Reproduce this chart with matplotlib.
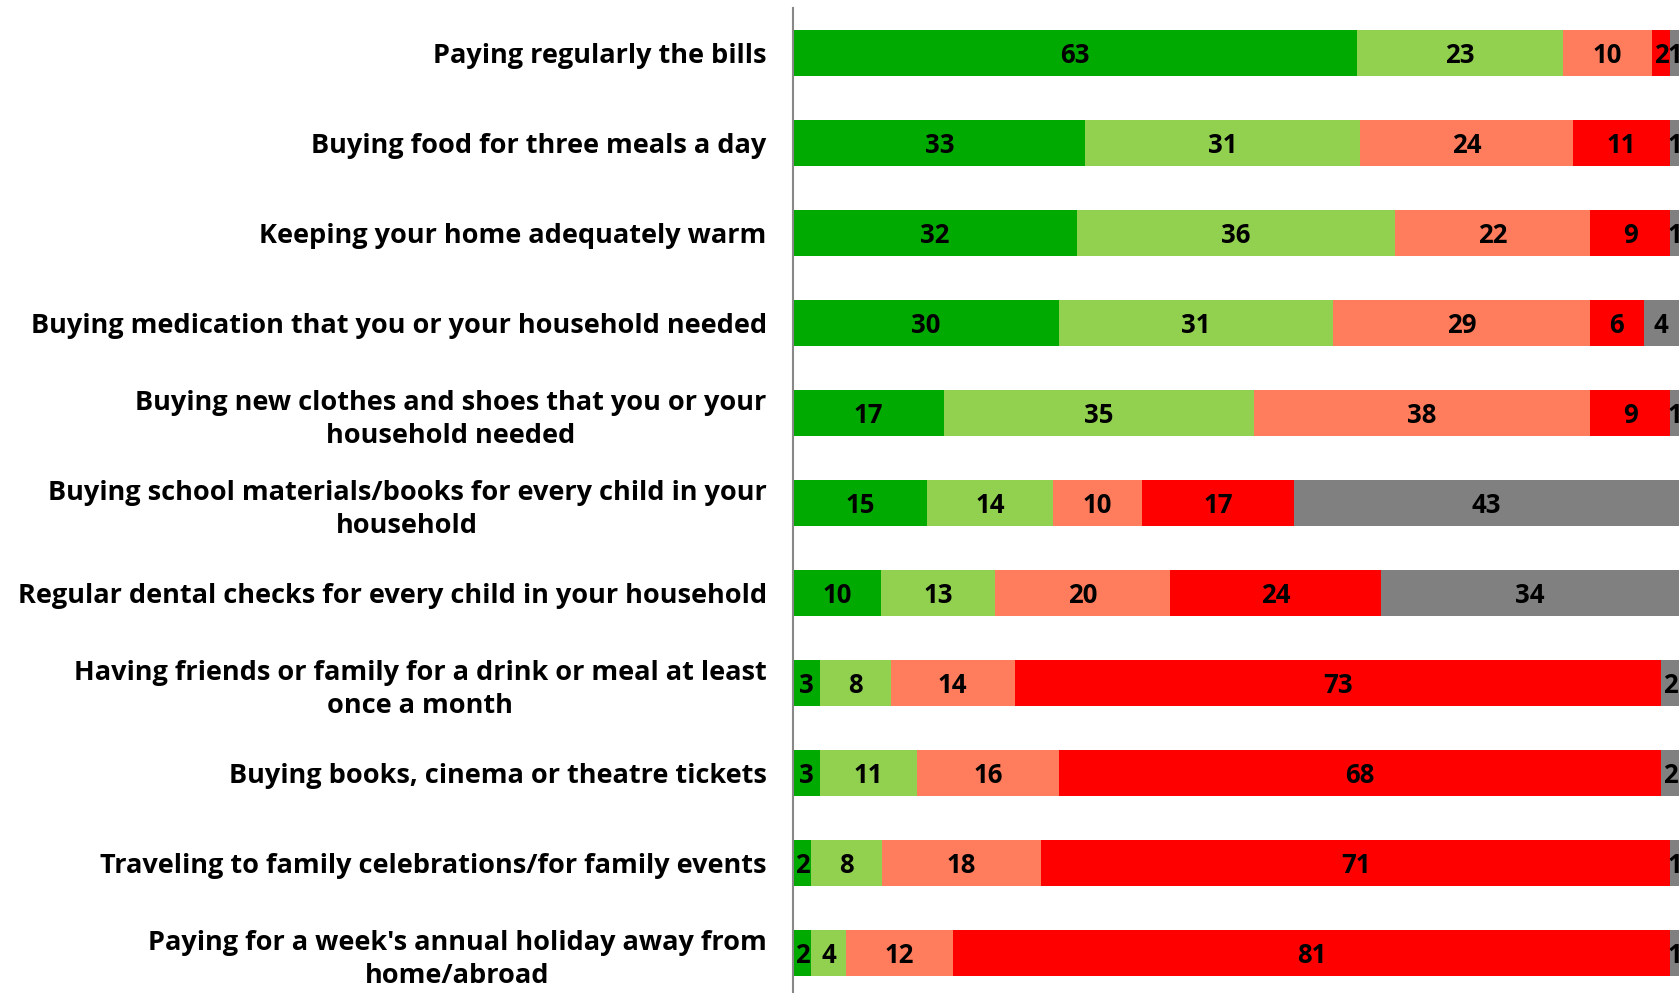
import numpy as np
import matplotlib.pyplot as plt

plt.rcParams['font.family'] = ['Open Sans', 'DejaVu Sans']

# Catégories (de haut en bas)
categories = [
    "Paying regularly the bills",
    "Buying food for three meals a day",
    "Keeping your home adequately warm",
    "Buying medication that you or your household needed",
    "Buying new clothes and shoes that you or your\nhousehold needed",
    "Buying school materials/books for every child in your\nhousehold",
    "Regular dental checks for every child in your household",
    "Having friends or family for a drink or meal at least\nonce a month",
    "Buying books, cinema or theatre tickets",
    "Traveling to family celebrations/for family events",
    "Paying for a week's annual holiday away from\nhome/abroad",
]

# Séries (pourcentages)
always = [63, 33, 32, 30, 17, 15, 10, 3, 3, 2, 2]
mostly = [23, 31, 36, 31, 35, 14, 13, 8, 11, 8, 4]
sometimes = [10, 24, 22, 29, 38, 10, 20, 14, 16, 18, 12]
never = [2, 11, 9, 6, 9, 17, 24, 73, 68, 71, 81]
not_applicable = [1, 1, 1, 4, 1, 43, 34, 2, 2, 1, 1]

series = [always, mostly, sometimes, never, not_applicable]
colors = ['#00AA00', '#92D050', '#FF7C5C', '#FF0000', '#808080']

data = np.array(series, dtype=float)
totals = data.sum(axis=0)
shares = data / totals * 100

fig = plt.figure(figsize=(16.81, 9.93), dpi=100)
ax = fig.add_axes([0.4718, -0.005, 0.527, 0.997])

y = np.arange(len(categories))
left = np.zeros(len(categories))
for vals, share, col in zip(series, shares, colors):
    ax.barh(y, share, left=left, height=0.51, color=col, edgecolor='none')
    for i, (v, s) in enumerate(zip(vals, share)):
        ax.text(left[i] + s / 2, y[i], str(v), ha='center', va='center_baseline',
                fontsize=18.5, fontweight='bold', color='black')
    left += share

ax.set_xlim(0, 100)
ax.set_ylim(len(categories) - 0.5, -0.5)
ax.set_yticks(y)
ax.set_yticklabels(categories, fontsize=19.5, fontweight='bold')
for t in ax.get_yticklabels():
    t.set_multialignment('center')
    t.set_linespacing(1.35)
ax.tick_params(axis='y', length=0, pad=19)
ax.set_xticks([])
for side in ['top', 'right', 'bottom']:
    ax.spines[side].set_visible(False)
ax.spines['left'].set_color('#888888')
ax.spines['left'].set_linewidth(1.5)

fig.savefig('out.png', dpi=100)
